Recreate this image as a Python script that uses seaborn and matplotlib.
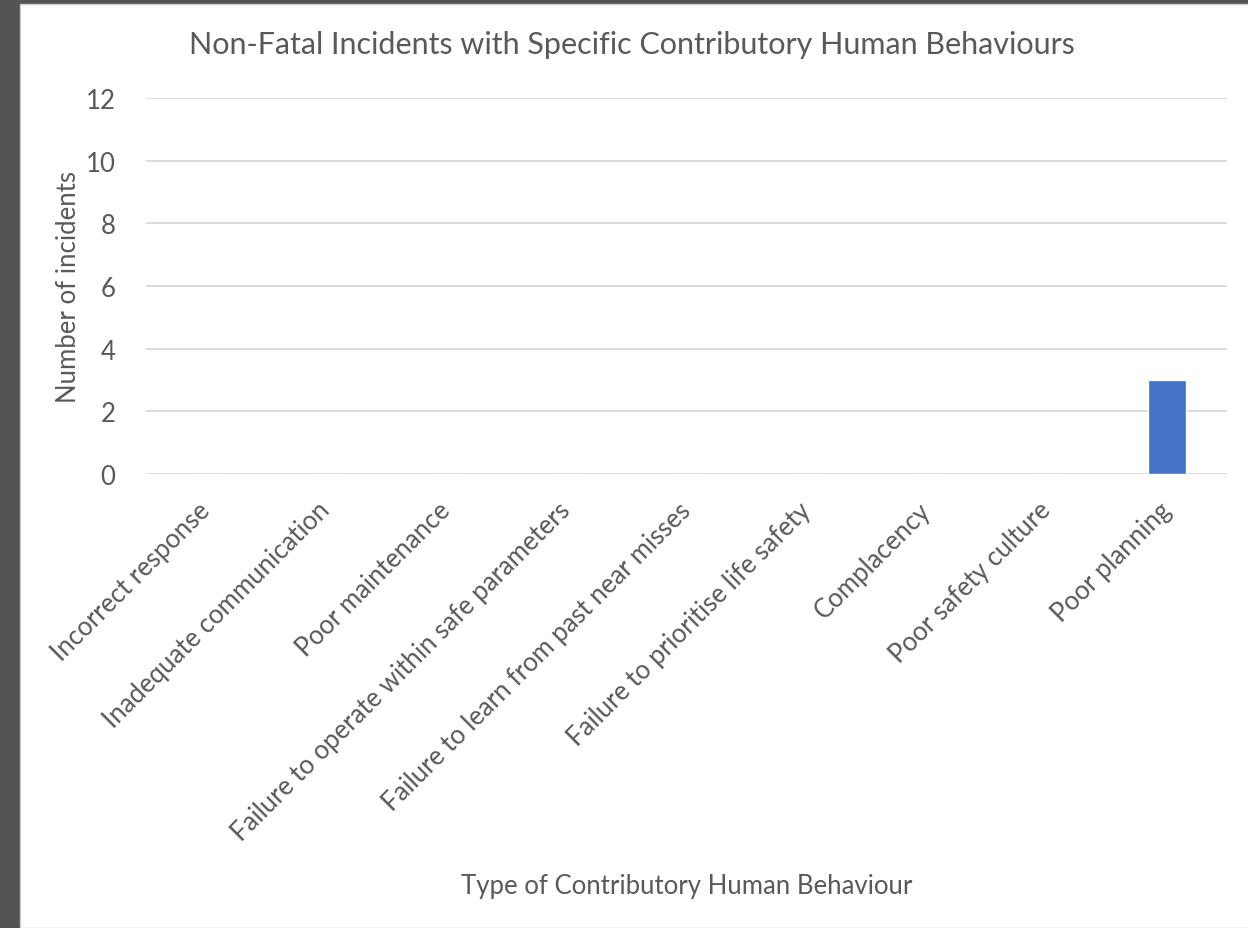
import matplotlib
matplotlib.use("Agg")
import matplotlib.pyplot as plt
from matplotlib.patches import Rectangle
import seaborn as sns
import pandas as pd

behaviours = [
    "Incorrect response",
    "Inadequate communication",
    "Poor maintenance",
    "Failure to operate within safe parameters",
    "Failure to learn from past near misses",
    "Failure to prioritise life safety",
    "Complacency",
    "Poor safety culture",
    "Poor planning",
]
incidents = [0, 0, 0, 0, 0, 0, 0, 0, 3]
y_ticks = [0, 2, 4, 6, 8, 10, 12]

df = pd.DataFrame({"behaviour": behaviours, "incidents": incidents})

sns.set_theme(style="white")
plt.rcParams["font.family"] = ["Lato", "DejaVu Sans"]

text_col = "#595959"
grid_col = "#d9d9d9"
label_size = 18.5

fig = plt.figure(figsize=(12.48, 9.29), dpi=100)
fig.patch.set_facecolor("#545454")
fig.patches.append(Rectangle((20 / 1248, 0), 1, 1 - 5 / 929, transform=fig.transFigure,
                             facecolor="white", edgecolor="#d0d0d0", linewidth=1, zorder=-5))

ax = fig.add_axes([146 / 1248, 1 - 475 / 929, (1227 - 146) / 1248, (475 - 99) / 929])
ax.set_facecolor("none")
ax.set_zorder(2)

sns.barplot(data=df, x="behaviour", y="incidents", color="#4472c4", width=0.32,
            saturation=1, ax=ax, zorder=3)

ax.set_ylim(0, 12)
ax.set_yticks(y_ticks)
ax.set_xlim(-0.5, len(behaviours) - 0.5)
for y in y_ticks:
    ax.axhline(y, color=grid_col, linewidth=1.3, zorder=1)
for s in ax.spines.values():
    s.set_visible(False)

ax.tick_params(axis="y", length=0, pad=22, labelsize=label_size, labelcolor=text_col)
ax.tick_params(axis="x", length=0, pad=23, labelsize=label_size, labelcolor=text_col)
ax.set_xticks(range(len(behaviours)))
ax.set_xticklabels(behaviours, rotation=45, ha="right", va="center", rotation_mode="anchor")

ax.set_xlabel("")
ax.set_ylabel("Number of incidents", fontsize=label_size, color=text_col, labelpad=3)
fig.text(687 / 1248, 1 - 887 / 929, "Type of Contributory Human Behaviour",
         ha="center", va="center", fontsize=label_size, color=text_col)
fig.text(632 / 1248, 1 - 45 / 929, "Non-Fatal Incidents with Specific Contributory Human Behaviours",
         ha="center", va="center", fontsize=22, color=text_col)

fig.savefig("out.png", dpi=100, facecolor=fig.get_facecolor())
